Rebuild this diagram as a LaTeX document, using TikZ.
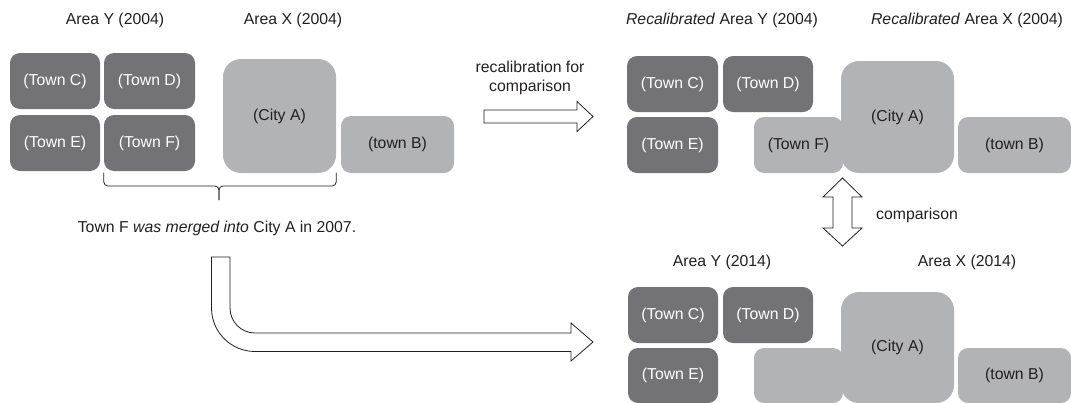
\documentclass[tikz,border=0pt]{standalone}
\usepackage{fontspec}
\setmainfont{Liberation Sans}
\usepackage{tikz}
\usetikzlibrary{calc}
\definecolor{townfill}{HTML}{737377}
\definecolor{cityfill}{HTML}{B2B3B6}
\definecolor{inktext}{HTML}{231F20}
\tikzset{
  area/.style={rectangle,rounded corners=10pt,inner sep=0pt,font=\fontsize{15.8}{19}\selectfont},
  town/.style={area,fill=townfill,text=white},
  city/.style={area,fill=cityfill,text=inktext},
  heading/.style={inner sep=0pt,text=inktext,font=\fontsize{15.8}{19}\selectfont},
  blockarrow/.style={draw=inktext,fill=white,line width=0.8pt,line join=miter},
  bracket/.style={draw=inktext,line width=0.8pt,rounded corners=4pt}
}

\begin{document}
\begin{tikzpicture}[x=1pt,y=-1pt]
  \useasboundingbox (0,0) rectangle (1071,402);

  \node[heading] (hY1) at (115,20) {Area Y (2004)};
  \node[heading] (hX1) at (293,20) {Area X (2004)};
  \node[town,minimum width=90pt,minimum height=56pt] (C1) at (55,81) {(Town C)};
  \node[town,minimum width=91pt,minimum height=56pt] (D1) at (149.5,81) {(Town D)};
  \node[town,minimum width=90pt,minimum height=56pt] (E1) at (55,143) {(Town E)};
  \node[town,minimum width=91pt,minimum height=56pt] (F1) at (149.5,143) {(Town F)};
  \node[city,rounded corners=18pt,minimum width=113pt,minimum height=114pt] (A1) at (279.5,116) {(City A)};
  \node[city,minimum width=113pt,minimum height=57pt] (B1) at (397.5,144.5) {(town B)};

  \coordinate (brM) at (219,200);
  \draw[bracket] ($(F1.south west)+(0,1.5)$) |- ($(brM)+(0,-14)$) -- (brM);
  \draw[bracket] ($(A1.south east)+(0,-0.5)$) |- ($(brM)+(0,-14)$) -- (brM);
  \node[heading] (note) at (217,228) {Town F \textit{was merged into} City A in 2007.};

  \node[heading,align=center] (recal) at (530,78) {recalibration for\\comparison};
  \draw[blockarrow] (484,110) -- (577,110) -- (577,101.5) -- (593,116.5) -- (577,131.5)
    -- (577,123) -- (484,123) -- cycle;

  \node[heading] (hY2) at (722,20) {\textit{Recalibrated} Area Y (2004)};
  \node[heading] (hX2) at (967,20) {\textit{Recalibrated} Area X (2004)};
  \node[town,minimum width=91pt,minimum height=56pt] (C2) at (672.5,84) {(Town C)};
  \node[town,minimum width=90pt,minimum height=56pt] (D2) at (768,84) {(Town D)};
  \node[town,minimum width=91pt,minimum height=56pt] (E2) at (672.5,145) {(Town E)};
  \node[city,minimum width=89pt,minimum height=56pt] (F2) at (798.5,145) {(Town F)};
  \node[city,rounded corners=18pt,minimum width=113pt,minimum height=112pt] (A2) at (897.5,117) {(City A)};
  \node[city,minimum width=113pt,minimum height=56pt] (B2) at (1014.5,145) {(town B)};

  \draw[blockarrow] (842.5,178) -- (862,197) -- (852,197) -- (852,228) -- (862,228) -- (842.5,246)
    -- (823,228) -- (833,228) -- (833,197) -- (823,197) -- cycle;
  \node[heading] (cmp) at (917,215) {comparison};

  \node[heading] (hY3) at (722,262) {Area Y (2014)};
  \node[heading] (hX3) at (967,262) {Area X (2014)};
  \node[town,minimum width=90pt,minimum height=56pt] (C3) at (673,315) {(Town C)};
  \node[town,minimum width=90pt,minimum height=56pt] (D3) at (768,315) {(Town D)};
  \node[town,minimum width=90pt,minimum height=55pt] (E3) at (673,375.5) {(Town E)};
  \node[city,minimum width=89pt,minimum height=55pt] (G3) at (798.5,375.5) {};
  \node[city,rounded corners=18pt,minimum width=113pt,minimum height=111pt] (A3) at (897.5,347.5) {(City A)};
  \node[city,minimum width=113pt,minimum height=55pt] (B3) at (1014.5,375.5) {(town B)};

  \draw[blockarrow] (211.5,257) -- (211.5,308) arc[start angle=180,end angle=270,radius=43.5pt]
    -- (571,351.5) -- (571,361) -- (593,342) -- (571,323) -- (571,333) -- (255,333)
    arc[start angle=270,end angle=180,radius=25pt] -- (230,257) -- cycle;
\end{tikzpicture}
\end{document}
